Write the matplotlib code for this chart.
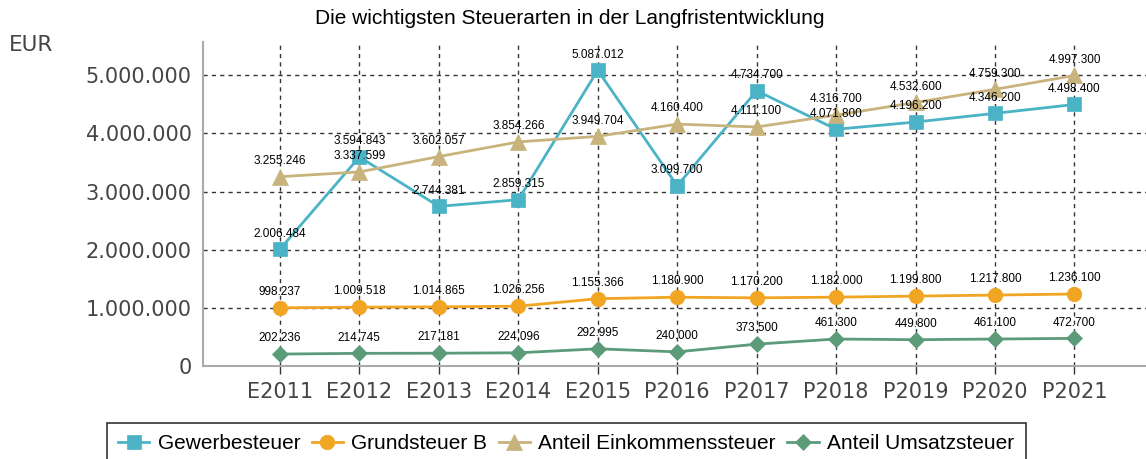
import numpy as np
import matplotlib.pyplot as plt

# Werte
jahre = ['E2011', 'E2012', 'E2013', 'E2014', 'E2015', 'P2016',
         'P2017', 'P2018', 'P2019', 'P2020', 'P2021']
gewerbe = [2006484, 3594843, 2744381, 2859315, 5087012, 3099700,
           4734700, 4071800, 4196200, 4346200, 4498400]
grundsteuer_b = [998237, 1009518, 1014865, 1026256, 1155366, 1180900,
                 1170200, 1182000, 1199800, 1217800, 1236100]
einkommen = [3255246, 3337599, 3602057, 3854266, 3949704, 4160400,
             4111100, 4316700, 4532600, 4759300, 4997300]
umsatz = [202236, 214745, 217181, 224096, 292995, 240000,
          373500, 461300, 449800, 461100, 472700]


def fmt(v):
    return '{:,}'.format(int(v)).replace(',', '.')


fig = plt.figure(figsize=(11.46, 4.59), dpi=100)
ax = fig.add_axes([0.177, 0.203, 0.823, 0.705])
x = np.arange(len(jahre))

reihen = [
    ('Gewerbesteuer', gewerbe, '#4AB3C6', 's', 10),
    ('Grundsteuer B', grundsteuer_b, '#F0A523', 'o', 10.5),
    ('Anteil Einkommenssteuer', einkommen, '#C9B37D', '^', 11),
    ('Anteil Umsatzsteuer', umsatz, '#5B9B79', 'D', 8),
]
for name, werte, farbe, mk, ms in reihen:
    ax.plot(x, werte, color=farbe, lw=2, marker=mk, markersize=ms,
            markeredgecolor=farbe, markeredgewidth=0.5, label=name, zorder=3)
    for xi, v in zip(x, werte):
        ax.annotate(fmt(v), (xi, v), xytext=(0, 7), textcoords='offset points',
                    ha='center', va='bottom', fontsize=8.5,
                    family='Liberation Sans', color='black', zorder=4)

ax.set_xlim(-0.97, 10.9)
ax.set_ylim(0, 5570000)
ax.set_xticks(x)
ax.set_xticklabels(jahre)
ax.set_yticks(np.arange(0, 5000001, 1000000))
ax.set_yticklabels([fmt(v) for v in np.arange(0, 5000001, 1000000)])
ax.tick_params(axis='both', labelsize=15, labelcolor='#454545')
ax.tick_params(axis='y', length=0, pad=8)
ax.tick_params(axis='x', length=6, width=1, color='#333333', pad=6)
ax.grid(True, axis='x', color='#333333', ls=(0, (3, 3)), lw=1)
for yv in np.arange(1000000, 5000001, 1000000):
    ax.axhline(yv, color='#333333', ls=(0, (3, 3)), lw=1, zorder=1)
for s in ['top', 'right']:
    ax.spines[s].set_visible(False)
ax.spines['left'].set_color('#aaaaaa')
ax.spines['bottom'].set_color('#aaaaaa')
ax.spines['left'].set_linewidth(1.5)
ax.spines['bottom'].set_linewidth(1.5)

fig.text(0.497, 0.96, 'Die wichtigsten Steuerarten in der Langfristentwicklung',
         ha='center', va='center', fontsize=15, family='Liberation Sans')
fig.text(0.008, 0.902, 'EUR', ha='left', va='center', fontsize=15.5, color='#454545')

leg = fig.legend(loc='upper center', bbox_to_anchor=(0.494, 0.079), ncol=4,
                 frameon=True, fancybox=False, edgecolor='black',
                 prop={'family': 'Liberation Sans', 'size': 15},
                 handlelength=1.5, handletextpad=0.4, columnspacing=0.55,
                 borderpad=0.55, borderaxespad=0)
leg.get_frame().set_linewidth(1.2)

fig.savefig('out.png', dpi=100)
